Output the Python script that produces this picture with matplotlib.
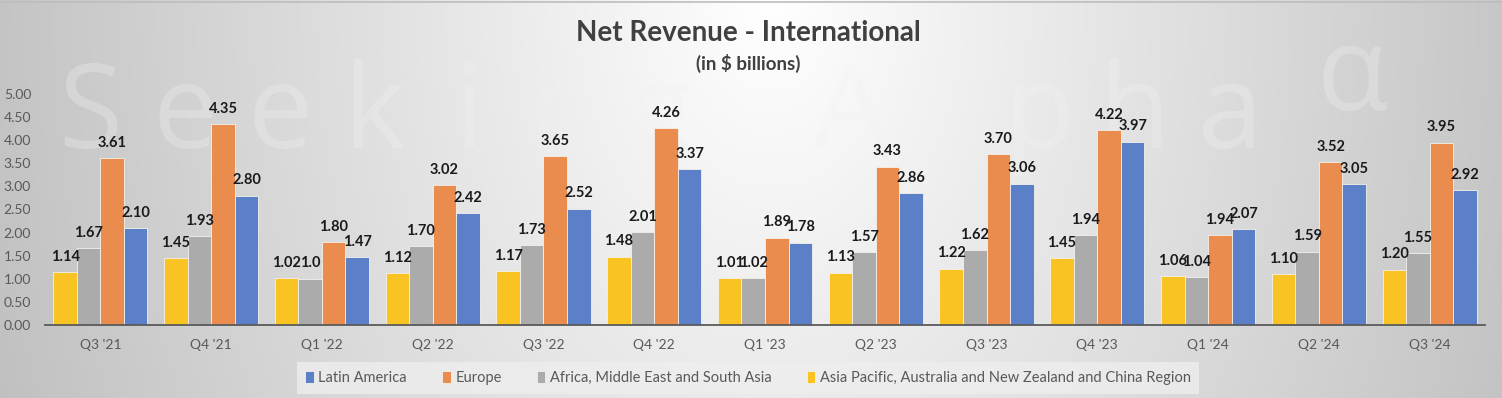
import numpy as np
import matplotlib
matplotlib.use('Agg')
import matplotlib.pyplot as plt

# ─── Data ──────────────────────────────────────────────
quarters = ["Q3 '21", "Q4 '21", "Q1 '22", "Q2 '22", "Q3 '22", "Q4 '22", "Q1 '23",
            "Q2 '23", "Q3 '23", "Q4 '23", "Q1 '24", "Q2 '24", "Q3 '24"]
asia_pacific = [1.14, 1.45, 1.02, 1.12, 1.17, 1.48, 1.01, 1.13, 1.22, 1.45, 1.06, 1.10, 1.20]
africa_me_sa = [1.67, 1.93, 1.00, 1.70, 1.73, 2.01, 1.02, 1.57, 1.62, 1.94, 1.04, 1.59, 1.55]
europe = [3.61, 4.35, 1.80, 3.02, 3.65, 4.26, 1.89, 3.43, 3.70, 4.22, 1.94, 3.52, 3.95]
latin_america = [2.10, 2.80, 1.47, 2.42, 2.52, 3.37, 1.78, 2.86, 3.06, 3.97, 2.07, 3.05, 2.92]
# label shown in the source is truncated for this one bar
label_override = {('africa', 2): '1.0'}

series = [
    ('asia', 'Asia Pacific, Australia and New Zealand and China Region', asia_pacific, '#F9C423'),
    ('africa', 'Africa, Middle East and South Asia', africa_me_sa, '#ABABAB'),
    ('europe', 'Europe', europe, '#EB8C4F'),
    ('latam', 'Latin America', latin_america, '#5B80C8'),
]

FONT = 'Lato'
W, H = 1502, 398
fig = plt.figure(figsize=(W / 100, H / 100), dpi=100)

# background gradient (white centre top, grey edges)
bg = fig.add_axes([0, 0, 1, 1], zorder=-10)
xx, yy = np.meshgrid(np.arange(W), np.arange(H))
d = np.sqrt(((xx - 770) / 800.0) ** 2 + (yy / 1150.0) ** 2)
val = np.clip(1.0 - 0.24 * d, 0, 1)
bg.imshow(np.dstack([val, val, val]), aspect='auto', extent=[0, W, H, 0])
bg.plot([0, W], [1.5, 1.5], color='#BDBDBD', lw=1.2)
bg.set_xlim(0, W)
bg.set_ylim(H, 0)
bg.axis('off')

# very faint watermark
wm = "Seeking Alpha"
for i, ch in enumerate(wm):
    bg.text(90 + i * 95, 148, ch, fontsize=84, family='Open Sans',
            color='#F2F2F2', alpha=0.3, ha='center', va='baseline')
bg.text(1352, 110, 'α', fontsize=84, family='Open Sans',
        color='#F2F2F2', alpha=0.3, ha='center', va='baseline')

# main axes
ax = fig.add_axes([45 / W, 1 - 325 / H, 1440 / W, 231 / H])
ax.patch.set_alpha(0)
x = np.arange(len(quarters))
bw = 0.2125
for k, (key, name, vals, col) in enumerate(series):
    pos = x + (k - 1.5) * bw
    bars = ax.bar(pos, vals, width=bw, color=col, edgecolor='#F4F1EA',
                  linewidth=0.6, label=name, zorder=2)
    for j, (b, v) in enumerate(zip(bars, vals)):
        txt = label_override.get((key, j), f'{v:.2f}')
        ax.annotate(txt, (b.get_x() + b.get_width() / 2, v), xytext=(0, 6),
                    textcoords='offset points', ha='center', va='bottom',
                    fontsize=10.5, fontweight='bold', family=FONT,
                    color='#1A1A1A', annotation_clip=False, zorder=3)

ax.set_xlim(-0.5, len(quarters) - 0.5)
ax.set_ylim(0, 5)
ax.set_yticks(np.arange(0, 5.01, 0.5))
ax.set_yticklabels([f'{t:.2f}' for t in np.arange(0, 5.01, 0.5)])
ax.set_xticks(x)
ax.set_xticklabels(quarters)
for s in ['top', 'right', 'left']:
    ax.spines[s].set_visible(False)
ax.spines['bottom'].set_color('#5A5A5A')
ax.spines['bottom'].set_linewidth(1.3)
ax.spines['bottom'].set_zorder(4)
ax.tick_params(axis='both', length=0, labelsize=10, labelcolor='#595959')
ax.tick_params(axis='x', pad=10)
ax.tick_params(axis='y', pad=10)
for lab in ax.get_xticklabels() + ax.get_yticklabels():
    lab.set_family(FONT)

# titles
fig.text(0.498, 1 - 33 / H, 'Net Revenue - International', ha='center', va='center',
         fontsize=20, fontweight='bold', family=FONT, color='#404040')
fig.text(0.498, 1 - 63 / H, '(in $ billions)', ha='center', va='center',
         fontsize=13.5, fontweight='bold', family=FONT, color='#404040')

# legend (Latin America first)
handles, labels = ax.get_legend_handles_labels()
leg = fig.legend(handles[::-1], labels[::-1], loc='center', ncol=4,
                 bbox_to_anchor=(748 / W, 1 - 378 / H), frameon=True,
                 fancybox=False, handlelength=0.6, handleheight=0.9,
                 handletextpad=0.3, columnspacing=2.4, borderpad=0.6,
                 prop={'family': FONT, 'size': 10.5})
leg.get_frame().set_facecolor('#EEEEEE')
leg.get_frame().set_edgecolor('none')
leg.get_frame().set_alpha(0.8)
for t in leg.get_texts():
    t.set_color('#595959')

fig.savefig('out.png', dpi=100)
